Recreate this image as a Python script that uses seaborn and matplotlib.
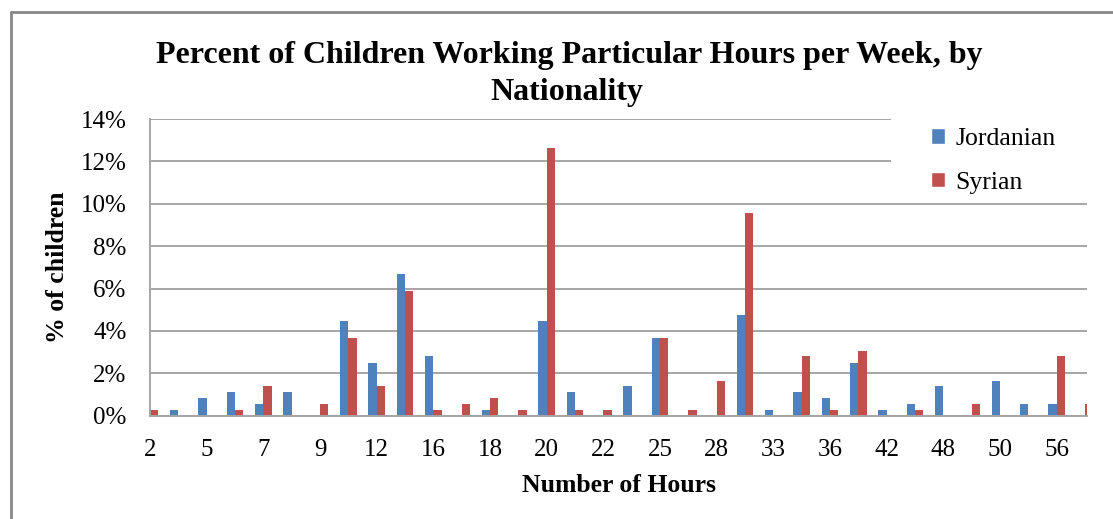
import seaborn as sns
import pandas as pd
import matplotlib.pyplot as plt
from matplotlib.lines import Line2D
from matplotlib.patches import Patch, Rectangle

# hours categories (only every other one is labelled on the axis)
hours = ["2", "3", "5", "6", "7", "8", "9", "10", "12", "14", "16", "17",
         "18", "19", "20", "21", "22", "24", "25", "27", "28", "30", "33", "35",
         "36", "40", "42", "45", "48", "49", "50", "54", "56", "60"]
jordanian = [0.0, 0.27, 0.82, 1.1, 0.55, 1.1, 0.0, 4.45, 2.5, 6.7, 2.82, 0.0,
             0.27, 0.0, 4.45, 1.1, 0.0, 1.4, 3.66, 0.0, 0.0, 4.76, 0.27, 1.1,
             0.82, 2.5, 0.27, 0.55, 1.4, 0.0, 1.65, 0.55, 0.55, 0.0]
syrian = [0.27, 0.0, 0.0, 0.27, 1.4, 0.0, 0.55, 3.66, 1.4, 5.9, 0.27, 0.55,
          0.82, 0.27, 12.64, 0.27, 0.27, 0.0, 3.66, 0.27, 1.65, 9.55, 0.0, 2.82,
          0.27, 3.06, 0.0, 0.27, 0.0, 0.55, 0.0, 0.0, 2.82, 0.55]
yticks = [0, 2, 4, 6, 8, 10, 12, 14]

df = pd.DataFrame({
    "Hours": hours * 2,
    "Percent": jordanian + syrian,
    "Nationality": ["Jordanian"] * len(hours) + ["Syrian"] * len(hours),
})

color_dict = {"Jordanian": "#4F81BD", "Syrian": "#C0504D"}

sns.set_style("white")
plt.rcParams["font.family"] = ["Liberation Serif", "DejaVu Serif"]
plt.rcParams["text.color"] = "black"
plt.rcParams["axes.labelcolor"] = "black"

fig = plt.figure(figsize=(11.13, 5.19), dpi=100)
ax = fig.add_axes([150 / 1113, 1 - 415.7 / 519, (1087 - 150) / 1113, (415.7 - 119) / 519])

sns.barplot(data=df, x="Hours", y="Percent", hue="Nationality", order=hours,
            palette=color_dict, width=0.58, saturation=1, linewidth=0,
            ax=ax, legend=False)

ax.set_xlim(0, 33.07)
ax.set_ylim(0, 14)
ax.set_yticks(yticks)
ax.set_yticklabels([f"{t}%" for t in yticks])
ax.set_xticks(range(0, len(hours), 2))
ax.set_xticklabels(hours[::2])
ax.tick_params(axis="both", labelsize=18, length=0, colors="black")
ax.tick_params(axis="x", pad=17)
ax.tick_params(axis="y", pad=17)
ax.grid(axis="y", color="#A6A6A6", linewidth=1.4)
ax.set_axisbelow(True)
for side in ["top", "right"]:
    ax.spines[side].set_visible(False)
for side in ["left", "bottom"]:
    ax.spines[side].set_color("#A6A6A6")
    ax.spines[side].set_linewidth(1.4)

ax.set_xlabel("Number of Hours", fontsize=18.5, fontweight="bold", labelpad=9, color="black")
ax.set_ylabel("% of children", fontsize=18.5, fontweight="bold", labelpad=8, color="black")

fig.text(569 / 1113, 1 - 56 / 519, "Percent of Children Working Particular Hours per Week, by",
         ha="center", va="center", fontsize=23, fontweight="bold", color="black")
fig.text(567 / 1113, 1 - 92 / 519, "Nationality",
         ha="center", va="center", fontsize=23, fontweight="bold", color="black")

# white legend area that hides the top gridlines
ax.add_patch(Rectangle((26.16, 10.5), 33.07 - 26.16, 4.0, facecolor="white",
                       edgecolor="none", zorder=1.5, clip_on=False))
handles = [Patch(facecolor=color_dict[k], label=k) for k in ["Jordanian", "Syrian"]]
leg = ax.legend(handles=handles, loc="upper left", bbox_to_anchor=(0.8236, 1.0),
                frameon=False, fontsize=18.5, handlelength=0.55, handleheight=0.55,
                handletextpad=0.4, labelspacing=0.85, borderpad=0.35,
                borderaxespad=0, labelcolor="black")

# outer chart frame (left and top edges visible)
fig.add_artist(Line2D([11 / 1113, 11 / 1113], [0, 1 - 12 / 519], color="#888888", linewidth=2))
fig.add_artist(Line2D([11 / 1113, 1], [1 - 12 / 519, 1 - 12 / 519], color="#888888", linewidth=2))

plt.savefig("out.png", dpi=100)
